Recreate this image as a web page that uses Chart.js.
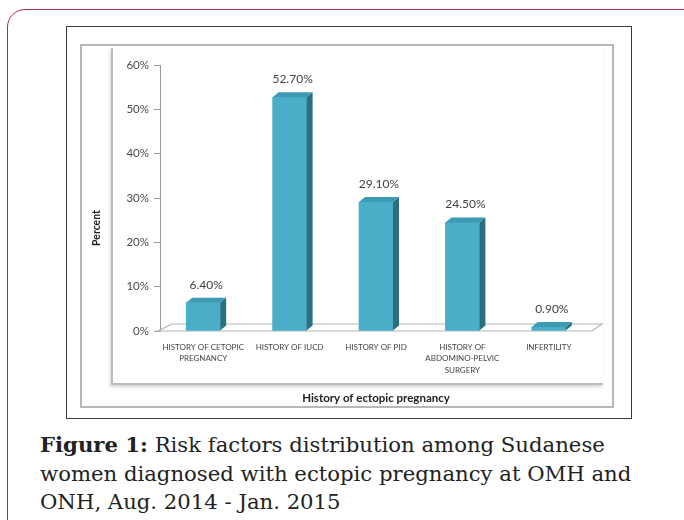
<!DOCTYPE html>
<html>
<head>
<meta charset="utf-8">
<script src="https://cdn.jsdelivr.net/npm/chart.js@4/dist/chart.umd.min.js"></script>
<style>
  html, body { margin: 0; padding: 0; background: #fff; }
  body { width: 684px; height: 520px; position: relative; overflow: hidden; }
  .card { position: absolute; left: 7px; top: 9px; width: 700px; height: 600px;
          border: 1.5px solid #a02c5c; border-radius: 18px; box-sizing: border-box; }
  .frame { position: absolute; left: 66px; top: 26px; width: 566px; height: 393px;
           border: 1.5px solid #3a3a3a; box-sizing: border-box; }
  .inner { position: absolute; left: 80px; top: 44px; width: 534px; height: 364px;
           border: 2px solid #b8b8b8; box-sizing: border-box; }
  .wall { position: absolute; left: 111px; top: 48px; width: 492px; height: 337px;
          border-left: 2px solid #bdbdbd; border-bottom: 2px solid #bdbdbd;
          box-sizing: border-box; box-shadow: -1px 2px 3px rgba(0,0,0,0.18); }
  #wrap { position: absolute; left: 0; top: 0; width: 684px; height: 420px; }
  .caption { position: absolute; left: 40px; top: 431px; width: 644px; white-space: nowrap;
             font-family: "DejaVu Serif", serif; font-size: 21.2px; line-height: 28.5px;
             color: #222; }
  .caption b { font-weight: bold; }
</style>
</head>
<body>
<div class="card"></div>
<div class="frame"></div>
<div class="inner"></div>
<div class="wall"></div>
<div id="wrap"><canvas id="chart" width="684" height="420"></canvas></div>
<div class="caption"><b>Figure 1:</b> Risk factors distribution among Sudanese<br>women diagnosed with ectopic pregnancy at OMH and<br>ONH, Aug. 2014 - Jan. 2015</div>
<script>
// data
const categories = [
    ['HISTORY OF CETOPIC', 'PREGNANCY'],
    ['HISTORY OF IUCD'],
    ['HISTORY OF PID'],
    ['HISTORY OF', 'ABDOMINO-PELVIC', 'SURGERY'],
    ['INFERTILITY']
];
const percentValues = [6.4, 52.7, 29.1, 24.5, 0.9];
const yTicks = [0, 10, 20, 30, 40, 50, 60];

const DEPTH_X = 6, DEPTH_Y = 5;
const FONT = 'Lato, "Liberation Sans", sans-serif';

// draws the floor, the 3D faces + value labels of each bar, and the y title
const bar3dPlugin = {
    id: 'bar3d',
    beforeDatasetsDraw(chart) {
        const { ctx, chartArea } = chart;
        const y0 = chart.scales.y.getPixelForValue(0);
        ctx.save();
        ctx.beginPath();
        ctx.moveTo(chartArea.left - 2, y0);
        ctx.lineTo(chartArea.right, y0);
        ctx.lineTo(chartArea.right + 10, y0 - 7);
        ctx.lineTo(chartArea.left + 12, y0 - 7);
        ctx.closePath();
        ctx.fillStyle = '#ffffff';
        ctx.fill();
        ctx.strokeStyle = '#b5b5b5';
        ctx.lineWidth = 1.2;
        ctx.stroke();
        ctx.restore();
    },
    afterDatasetsDraw(chart) {
        const { ctx } = chart;
        const meta = chart.getDatasetMeta(0);
        ctx.save();
        meta.data.forEach((bar, i) => {
            const half = bar.width / 2;
            const x1 = bar.x - half, x2 = bar.x + half;
            const top = bar.y, base = bar.base;
            // side face
            ctx.beginPath();
            ctx.moveTo(x2, top);
            ctx.lineTo(x2 + DEPTH_X, top - DEPTH_Y);
            ctx.lineTo(x2 + DEPTH_X, base - DEPTH_Y);
            ctx.lineTo(x2, base);
            ctx.closePath();
            ctx.fillStyle = '#2b6f82';
            ctx.fill();
            // top face
            ctx.beginPath();
            ctx.moveTo(x1, top);
            ctx.lineTo(x1 + DEPTH_X, top - DEPTH_Y);
            ctx.lineTo(x2 + DEPTH_X, top - DEPTH_Y);
            ctx.lineTo(x2, top);
            ctx.closePath();
            ctx.fillStyle = '#3d9ab3';
            ctx.fill();
            // value label
            ctx.fillStyle = '#404040';
            ctx.font = '12px ' + FONT;
            ctx.textAlign = 'center';
            ctx.textBaseline = 'middle';
            ctx.fillText(percentValues[i].toFixed(2) + '%', bar.x + 3, top - 18);
        });
        ctx.restore();
    },
    afterDraw(chart) {
        const { ctx } = chart;
        ctx.save();
        ctx.translate(97, 228);
        ctx.rotate(-Math.PI / 2);
        ctx.fillStyle = '#222';
        ctx.font = 'bold 10.5px ' + FONT;
        ctx.textAlign = 'center';
        ctx.textBaseline = 'middle';
        ctx.fillText('Percent', 0, 0);
        ctx.restore();
    }
};

const chartConfig = {
    type: 'bar',
    data: {
        labels: categories,
        datasets: [{
            label: 'Percent',
            data: percentValues,
            backgroundColor: '#4aaec8',
            borderWidth: 0,
            barThickness: 34
        }]
    },
    options: {
        responsive: false,
        animation: false,
        layout: {
            padding: { left: 90, top: 65, right: 92, bottom: 12 }
        },
        plugins: {
            legend: { display: false },
            tooltip: { enabled: false }
        },
        scales: {
            x: {
                afterFit: scale => { scale.height = 77; },
                grid: { display: false, drawTicks: false },
                border: { display: false },
                ticks: {
                    padding: 11,
                    color: '#444',
                    font: { family: FONT, size: 8, lineHeight: 1.4 },
                    maxRotation: 0,
                    autoSkip: false
                },
                title: {
                    display: true,
                    text: 'History of ectopic pregnancy',
                    color: '#222',
                    font: { family: FONT, size: 11.5, weight: 'bold' },
                    padding: { top: 4, bottom: 3 }
                }
            },
            y: {
                min: 0,
                max: 60,
                afterFit: scale => { scale.width = 70; },
                afterBuildTicks: scale => { scale.ticks = yTicks.map(v => ({ value: v })); },
                grid: { drawOnChartArea: false, drawTicks: true, tickLength: 6, color: '#9a9a9a' },
                border: { display: true, color: '#9a9a9a' },
                ticks: {
                    padding: 5,
                    color: '#4a4a4a',
                    font: { family: FONT, size: 11.5 },
                    callback: v => v + '%'
                }
            }
        }
    },
    plugins: [bar3dPlugin]
};

const ctx = document.getElementById('chart').getContext('2d');
new Chart(ctx, chartConfig);
</script>
</body>
</html>
